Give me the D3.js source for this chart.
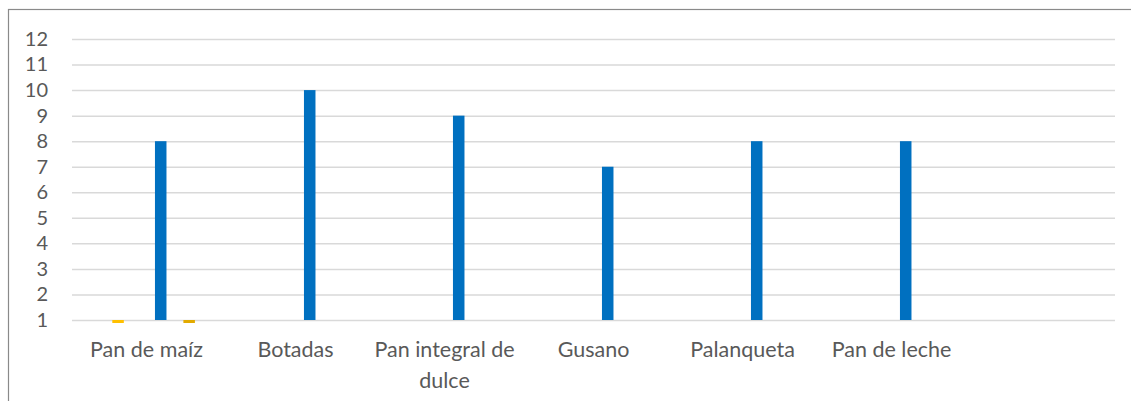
<!DOCTYPE html>
<html>
<head>
<meta charset="utf-8">
<script src="https://cdn.jsdelivr.net/npm/d3@7"></script>
<style>
  html, body { margin: 0; padding: 0; background: #fff; }
  svg { display: block; }
  .tick text { font-family: Lato, "Open Sans", sans-serif; fill: #595959; }
</style>
</head>
<body>
<svg id="chart" width="1131" height="401"></svg>
<script>
// Categories along the horizontal axis (last slot is left empty)
const categories = ["Pan de maíz", "Botadas", "Pan integral de dulce", "Gusano", "Palanqueta", "Pan de leche", ""];

// Series slots in each cluster; only three carry data
const seriesSlots = ["s1", "s2", "s3", "s4", "s5", "s6", "s7"];
const serieAmarilla = [0, null, null, null, null, null, null];
const serieAzul     = [8, 10, 9, 7, 8, 8, null];
const serieDorada   = [0, null, null, null, null, null, null];

// Vertical axis ticks
const yTicks = [1, 2, 3, 4, 5, 6, 7, 8, 9, 10, 11, 12];

const series = [
  { slot: "s2", values: serieAmarilla, color: "#FFC000" },
  { slot: "s5", values: serieAzul,     color: "#0070C0" },
  { slot: "s7", values: serieDorada,   color: "#E2AA00" }
];

const svg = d3.select("#chart");
const plot = { left: 72, right: 1115, top: 39, bottom: 320 };

// Outer chart border
svg.append("rect")
  .attr("x", 8.5).attr("y", 9.5)
  .attr("width", 1140).attr("height", 420)
  .attr("fill", "none").attr("stroke", "#8a8a8a").attr("stroke-width", 1.2);

const x0 = d3.scaleBand()
  .domain(categories)
  .range([plot.left, plot.right])
  .paddingInner(0.332)
  .paddingOuter(0.166);

const x1 = d3.scaleBand()
  .domain(seriesSlots)
  .range([0, x0.bandwidth()])
  .paddingInner(0.19)
  .paddingOuter(0.095);

const y = d3.scaleLinear()
  .domain([1, 12])
  .range([plot.bottom, plot.top]);

// Horizontal gridlines and value labels
const yAxis = svg.append("g")
  .attr("transform", `translate(${plot.left},0)`)
  .call(d3.axisLeft(y).tickValues(yTicks).tickSize(-(plot.right - plot.left)).tickPadding(24).tickFormat(d3.format("d")));
yAxis.select(".domain").remove();
yAxis.selectAll(".tick line").attr("stroke", "#d9d9d9").attr("stroke-width", 1.5);
yAxis.selectAll(".tick text").style("font-size", "20px");

// Bars are clipped a few pixels below the axis floor
svg.append("clipPath").attr("id", "plotClip")
  .append("rect")
  .attr("x", plot.left).attr("y", 0)
  .attr("width", plot.right - plot.left)
  .attr("height", plot.bottom + 3);

const bars = svg.append("g").attr("clip-path", "url(#plotClip)");
series.forEach(s => {
  bars.selectAll(null)
    .data(categories.map((c, i) => ({ c, v: s.values[i] })).filter(d => d.v !== null))
    .join("rect")
    .attr("x", d => x0(d.c) + x1(s.slot))
    .attr("width", x1.bandwidth())
    .attr("y", d => Math.min(y(d.v), y(1)))
    .attr("height", d => Math.abs(y(1) - y(d.v)))
    .attr("fill", s.color);
});

// Category labels, wrapped to the category width
const xAxis = svg.append("g")
  .attr("transform", `translate(0,${plot.bottom})`)
  .call(d3.axisBottom(x0).tickSize(0).tickPadding(0));
xAxis.select(".domain").remove();
xAxis.selectAll(".tick text")
  .style("font-size", "21.5px")
  .attr("y", 0).attr("dy", null)
  .each(function(d) {
    const text = d3.select(this);
    const words = d.split(/\s+/).filter(w => w);
    text.text(null);
    const maxW = x0.step() + 20;
    let lines = [], line = [];
    const probe = text.append("tspan");
    words.forEach(w => {
      const trial = line.concat(w).join(" ");
      probe.text(trial);
      if (probe.node().getComputedTextLength() > maxW && line.length) {
        lines.push(line.join(" "));
        line = [w];
      } else {
        line.push(w);
      }
    });
    if (line.length) lines.push(line.join(" "));
    probe.remove();
    lines.forEach((l, i) => {
      text.append("tspan").attr("x", 0).attr("y", 37 + i * 31).text(l);
    });
  });
</script>
</body>
</html>
